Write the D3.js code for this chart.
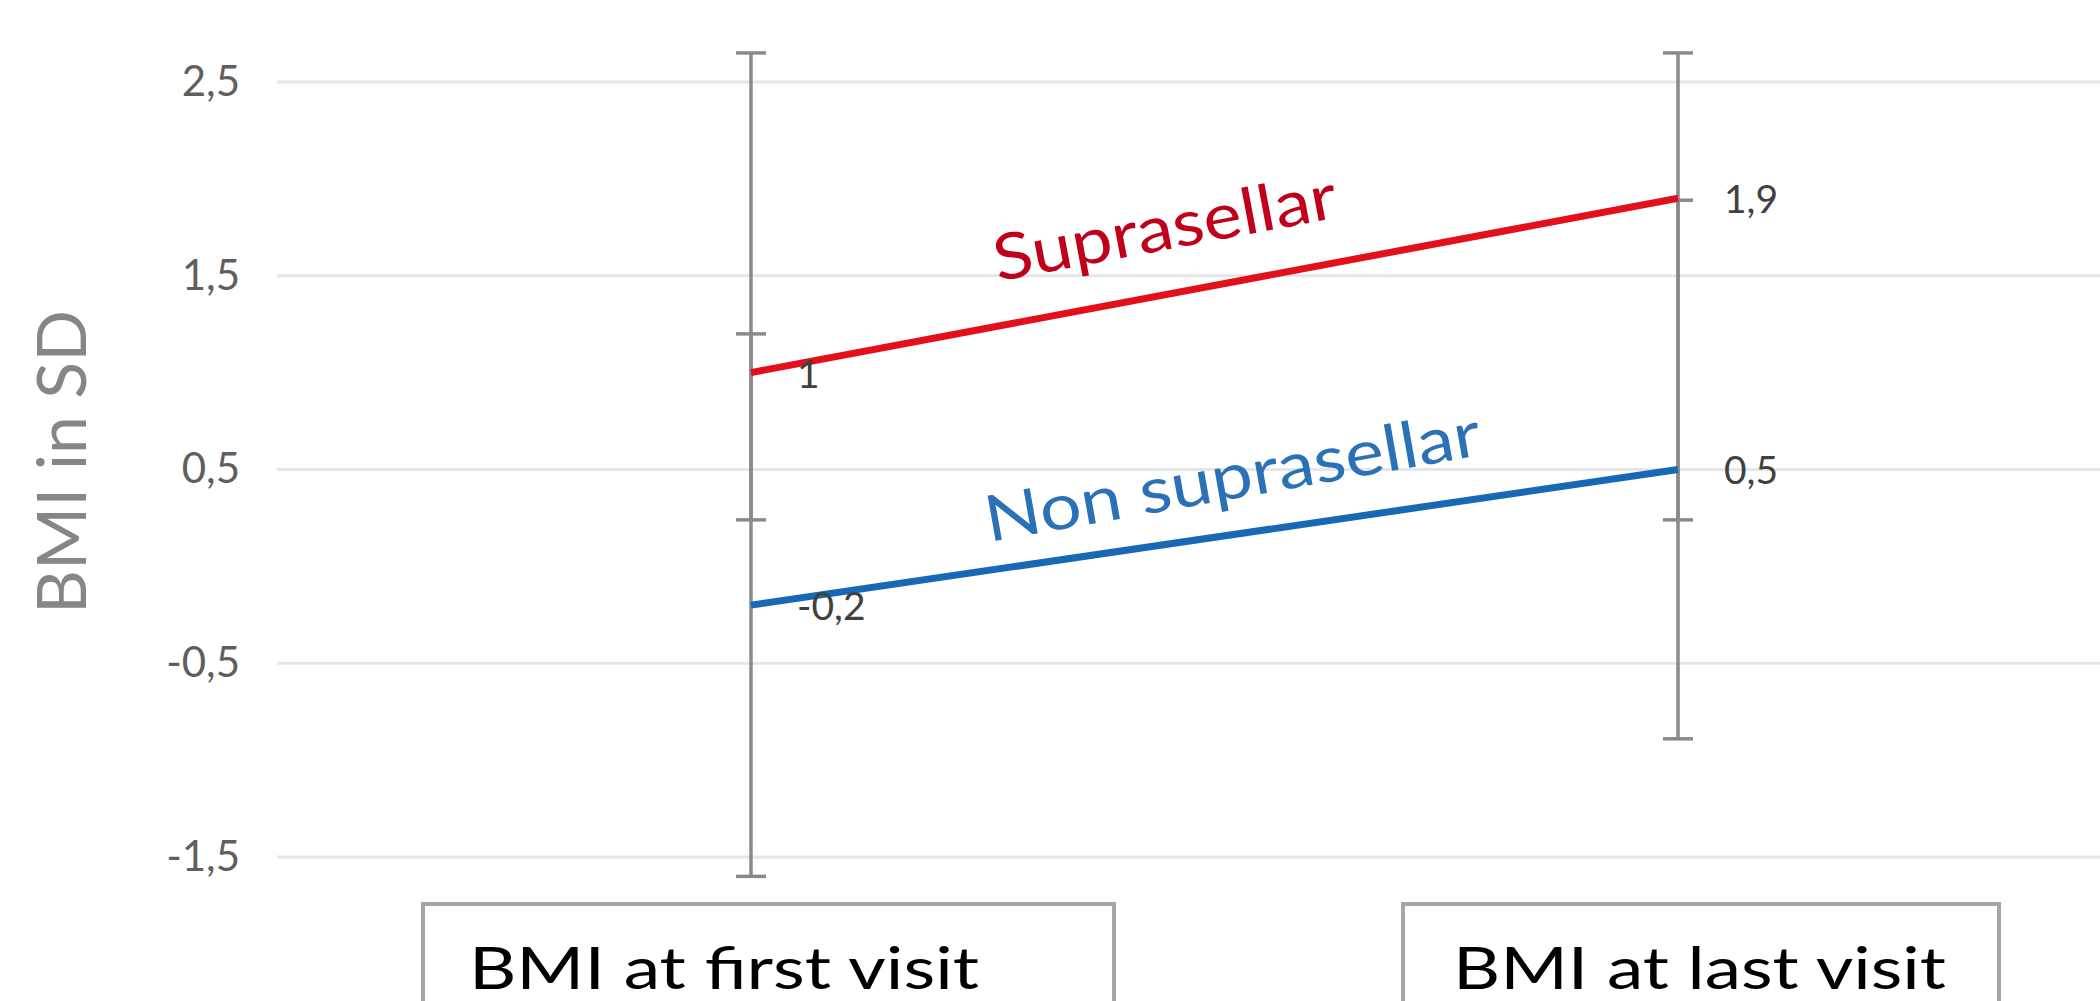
<!doctype html>
<html lang="en">
<head>
<meta charset="utf-8">
<script src="https://d3js.org/d3.v7.min.js"></script>
<title>BMI in SD</title>
<style>
  body { margin: 0; background: #fff; }
  svg { display: block; }
</style>
</head>
<body>
<svg id="svg"></svg>
<script>
// data
const categories = ["BMI at first visit", "BMI at last visit"];
const seriesNames = ["Suprasellar", "Non suprasellar"];
const suprasellar = [1, 1.9];
const nonSuprasellar = [-0.2, 0.5];
// ends of the grey whiskers
const supraLow = [0.24, 0.24];
const supraHigh = [2.65, 2.65];
const nonLow = [-1.6, -0.89];
const nonHigh = [1.2, 1.89];
const yTicks = [-1.5, -0.5, 0.5, 1.5, 2.5];

const width = 2100, height = 1001;
const colors = { line: ["#e3101c", "#1769b5"], text: ["#c0001a", "#2a72b5"] };

const fmt = v => String(v).replace(".", ",");

const svg = d3.select("#svg").attr("width", width).attr("height", height);

const xScale = d3.scalePoint().domain(categories).range([751, 1678]);
const yScale = d3.scaleLinear().domain([-1.5, 2.5]).range([857, 82]);

// gridlines
svg.append("g")
  .selectAll("line")
  .data(yTicks)
  .join("line")
  .attr("x1", 277).attr("x2", width)
  .attr("y1", d => yScale(d)).attr("y2", d => yScale(d))
  .attr("stroke", "#e6e6e6")
  .attr("stroke-width", 3);

// y axis labels
let yAxis = svg.append("g")
  .attr("transform", "translate(240,0)")
  .call(d3.axisLeft(yScale).tickValues(yTicks).tickFormat(fmt).tickSize(0).tickPadding(0));
yAxis.select(".domain").remove();
yAxis.selectAll(".tick text")
  .attr("font-family", "Lato, 'Open Sans', sans-serif")
  .attr("font-size", 42)
  .attr("fill", "#5f5f5f");

svg.append("text")
  .attr("transform", "translate(86,462) rotate(-90)")
  .attr("text-anchor", "middle")
  .attr("font-family", "Lato, 'Open Sans', sans-serif")
  .attr("font-size", 68)
  .attr("fill", "#868686")
  .text("BMI in SD");

// error bars
const series = [
  { name: seriesNames[0], values: suprasellar, low: supraLow, high: supraHigh },
  { name: seriesNames[1], values: nonSuprasellar, low: nonLow, high: nonHigh }
];

const whiskers = [];
series.forEach(s => categories.forEach((c, i) => whiskers.push({ c, low: s.low[i], high: s.high[i] })));

const eb = svg.append("g").attr("stroke", "#8a8a8a").attr("stroke-width", 3.5);
eb.selectAll("line.stem")
  .data(whiskers)
  .join("line")
  .attr("class", "stem")
  .attr("x1", d => xScale(d.c)).attr("x2", d => xScale(d.c))
  .attr("y1", d => yScale(d.high)).attr("y2", d => yScale(d.low));
const caps = whiskers.flatMap(d => [{ c: d.c, v: d.low }, { c: d.c, v: d.high }]);
eb.selectAll("line.cap")
  .data(caps)
  .join("line")
  .attr("class", "cap")
  .attr("x1", d => xScale(d.c) - 15).attr("x2", d => xScale(d.c) + 15)
  .attr("y1", d => yScale(d.v)).attr("y2", d => yScale(d.v));

// lines
const line = d3.line().x((d, i) => xScale(categories[i])).y(d => yScale(d));
svg.append("g")
  .selectAll("path")
  .data(series)
  .join("path")
  .attr("d", d => line(d.values))
  .attr("fill", "none")
  .attr("stroke", (d, i) => colors.line[i])
  .attr("stroke-width", 7);

// data labels
const labels = series.flatMap(s => s.values.map((v, i) => ({ c: categories[i], v })));
svg.append("g")
  .selectAll("text")
  .data(labels)
  .join("text")
  .attr("x", d => xScale(d.c) + 46)
  .attr("y", d => yScale(d.v) + 5)
  .attr("dominant-baseline", "middle")
  .attr("font-family", "Lato, 'Open Sans', sans-serif")
  .attr("font-size", 39)
  .attr("fill", "#404040")
  .text(d => fmt(d.v));

// series names along the lines
const nameSpots = [{ t: 0.275, off: 44, len: 348 }, { t: 0.262, off: 28, len: 502 }];
svg.append("g")
  .selectAll("text")
  .data(series)
  .join("text")
  .attr("transform", (d, i) => {
    const x0 = xScale(categories[0]), x1 = xScale(categories[1]);
    const y0 = yScale(d.values[0]), y1 = yScale(d.values[1]);
    const ang = Math.atan2(y1 - y0, x1 - x0) * 180 / Math.PI - (i === 1 ? 1.7 : 0);
    const x = x0 + (x1 - x0) * nameSpots[i].t;
    const y = y0 + (y1 - y0) * nameSpots[i].t;
    return `translate(${x},${y}) rotate(${ang}) translate(0,${-nameSpots[i].off})`;
  })
  .attr("font-family", "Lato, 'Open Sans', sans-serif")
  .attr("font-size", 64)
  .attr("fill", (d, i) => colors.text[i])
  .attr("textLength", (d, i) => nameSpots[i].len)
  .attr("lengthAdjust", "spacingAndGlyphs")
  .text(d => d.name);

// category boxes
const boxes = [{ dx: -328, w: 691, pad: 46, len: 510 }, { dx: -275, w: 596, pad: 50, len: 493 }];
const cat = svg.append("g")
  .selectAll("g")
  .data(categories)
  .join("g");
cat.append("rect")
  .attr("x", (d, i) => xScale(d) + boxes[i].dx)
  .attr("y", 904)
  .attr("width", (d, i) => boxes[i].w)
  .attr("height", 140)
  .attr("fill", "#fff")
  .attr("stroke", "#a6a6a6")
  .attr("stroke-width", 4);
cat.append("text")
  .attr("x", (d, i) => xScale(d) + boxes[i].dx + boxes[i].pad)
  .attr("y", 989)
  .attr("font-family", "Lato, 'Open Sans', sans-serif")
  .attr("font-size", 58)
  .attr("fill", "#000")
  .attr("textLength", (d, i) => boxes[i].len)
  .attr("lengthAdjust", "spacingAndGlyphs")
  .text(d => d);
</script>
</body>
</html>
